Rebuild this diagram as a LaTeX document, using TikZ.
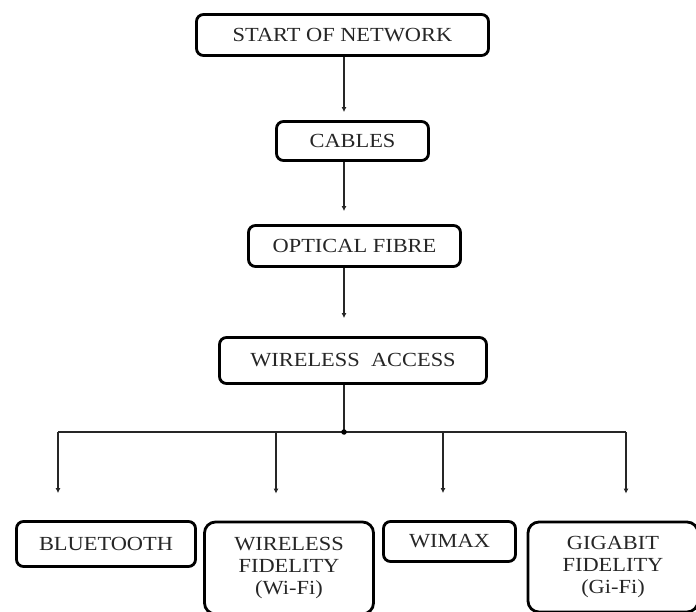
\documentclass[tikz,border=0pt]{standalone}
\usepackage{fontspec}
\setmainfont{Liberation Serif}[FakeStretch=1.12]
\usetikzlibrary{arrows.meta,positioning}

\begin{document}
\begin{tikzpicture}[x=1pt, y=-1pt,
    % --- Box styles ---
    stage/.style={draw, line width=2.8pt, rounded corners=7pt, inner sep=0pt,
                  text=black!85, font=\fontsize{20}{22}\selectfont},
    tall/.style={stage, align=center, rounded corners=11pt},
    % --- Connector styles ---
    link/.style={line width=1.1pt, black!85},
    flow/.style={link, -{Latex[length=5pt, width=5pt]}},
    hubdot/.style={circle, fill=black, minimum size=5.5pt, inner sep=0pt},
]

% --- Page frame (the lower boxes run off the edge) ---
\useasboundingbox (0,0) rectangle (696,612);
\clip (0,0) rectangle (696,612);

% ============================================================
% Main chain
% ============================================================
\node[stage, minimum width=292pt, minimum height=41pt] (start)    at (342.5, 35)  {START OF NETWORK};
\node[stage, minimum width=152pt, minimum height=39pt] (cables)   at (352.5,141)  {CABLES};
\node[stage, minimum width=212pt, minimum height=41pt] (fibre)    at (354.5,246)  {OPTICAL FIBRE};
\node[stage, minimum width=267pt, minimum height=46pt] (wireless) at (353,360.5)  {WIRELESS\ \ ACCESS};

% Vertical spine of the arrows (a little left of the box centres)
\coordinate (spine) at (344,0);

\draw[flow, shorten >=8pt]  (start.south -| spine)  -- (cables.north -| spine);
\draw[flow, shorten >=13pt] (cables.south -| spine) -- (fibre.north -| spine);
\draw[flow, shorten >=18pt] (fibre.south -| spine)  -- (wireless.north -| spine);

% ============================================================
% Branches of wireless access
% ============================================================
\node[stage, minimum width=179pt, minimum height=45pt] (bt)    at (106,544)    {BLUETOOTH};
\node[tall,  minimum width=169pt, minimum height=92pt] (wifi)  at (289,568)    {WIRELESS\\FIDELITY\\(Wi-Fi)};
\node[stage, minimum width=132pt, minimum height=40pt] (wimax) at (449.5,541.5) {WIMAX};
\node[tall,  minimum width=170pt, minimum height=90pt] (gifi)  at (613,567)    {GIGABIT\\FIDELITY\\(Gi-Fi)};

% Hub and drop points on the branch line
\coordinate (hub)    at (344,432);
\coordinate (dbt)    at (58,432);
\coordinate (dwifi)  at (276,432);
\coordinate (dwimax) at (443,432);
\coordinate (dgifi)  at (626,432);

\draw[link] (wireless.south -| spine) -- (hub);
\draw[link] (dbt) -- (dgifi);
\node[hubdot] (hubmark) at (hub) {};

\foreach \d/\n in {dbt/bt, dwifi/wifi, dwimax/wimax, dgifi/gifi}
  \draw[flow, shorten >=27pt] (\d) -- (\d |- \n.north);

\end{tikzpicture}
\end{document}
